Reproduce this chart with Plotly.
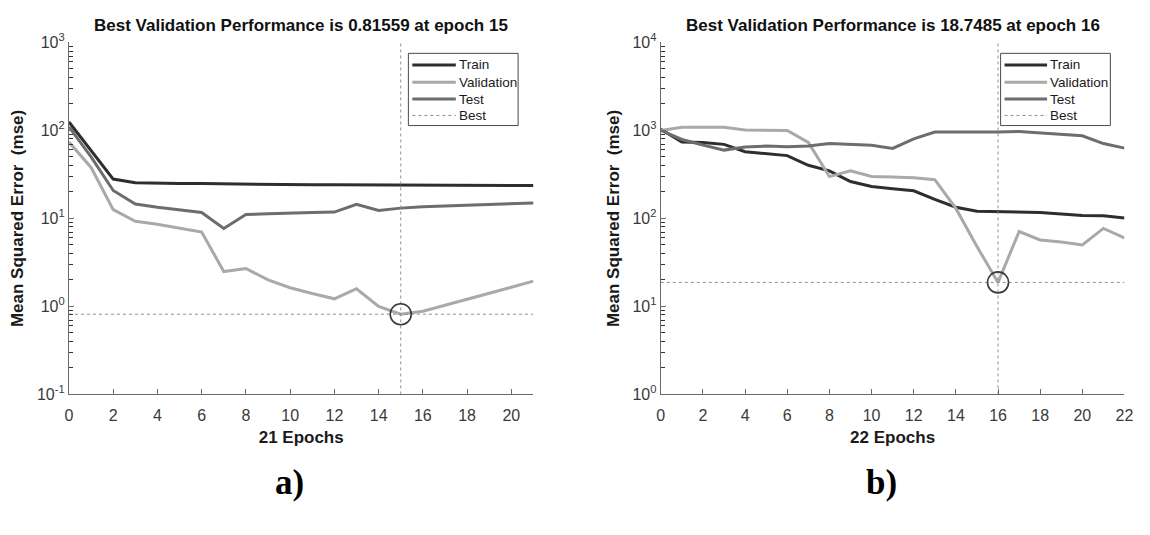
import plotly.graph_objects as go

# ---------------- data ----------------
left_epochs = list(range(0, 22))
left_train = [125, 59, 28, 25.5, 25.0, 24.9, 24.9, 24.7, 24.4, 24.3, 24.2, 24.1,
              24.1, 24.0, 23.9, 23.8, 23.8, 23.7, 23.7, 23.7, 23.7, 23.7]
left_val = [73.8, 38, 12.6, 9.3, 8.6, 7.7, 7.0, 2.49, 2.7, 2.0, 1.63, 1.40,
            1.22, 1.59, 1.0, 0.81559, 0.88, 1.03, 1.2, 1.4, 1.65, 1.94]
left_test = [110, 50, 20.8, 14.6, 13.4, 12.4, 11.7, 7.7, 11.1, 11.3, 11.6, 11.7,
             11.8, 14.5, 12.3, 13.1, 13.6, 13.9, 14.2, 14.5, 14.8, 15.0]
left_best_epoch = 15
left_best_val = 0.81559
left_yrange = [0.1, 1000]

right_epochs = list(range(0, 23))
right_train = [1030, 740, 730, 695, 573, 541, 518, 402, 348, 263, 231, 217,
               206, 165, 134, 121, 120, 119, 117, 112, 108, 107, 101]
right_val = [1000, 1090, 1090, 1090, 1010, 1000, 1000, 730, 299, 348, 300, 295,
             290, 276, 130, 48, 18.7485, 71, 57, 54, 50, 77, 60]
right_test = [1000, 790, 683, 598, 650, 665, 655, 665, 713, 695, 680, 624,
              803, 959, 955, 960, 960, 975, 942, 900, 870, 710, 630]
right_best_epoch = 16
right_best_val = 18.7485
right_yrange = [1, 10000]

left_title = "Best Validation Performance is 0.81559 at epoch 15"
right_title = "Best Validation Performance is 18.7485 at epoch 16"
left_xlabel = "21 Epochs"
right_xlabel = "22 Epochs"
ylabel = "Mean Squared Error  (mse)"
left_yticks = [0.1, 1, 10, 100, 1000]
left_yticktext = ["10<sup>-1</sup>", "10<sup>0</sup>", "10<sup>1</sup>", "10<sup>2</sup>", "10<sup>3</sup>"]
right_yticks = [1, 10, 100, 1000, 10000]
right_yticktext = ["10<sup>0</sup>", "10<sup>1</sup>", "10<sup>2</sup>", "10<sup>3</sup>", "10<sup>4</sup>"]
panel_labels = ["a)", "b)"]
legend_labels = ["Train", "Validation", "Test", "Best"]
minor_mult = [2, 3, 4, 5, 6, 7, 8, 9]

# ---------------- style ----------------
C_TRAIN = "#2e2e2e"
C_VAL = "#a9a9a9"
C_TEST = "#6d6d6d"
C_BEST = "#8f8f8f"
C_AXIS = "#6a6a6a"
FONT = "Liberation Sans, Arial, sans-serif"
series_styles = [dict(color=C_TRAIN, width=3), dict(color=C_VAL, width=3),
                 dict(color=C_TEST, width=3), dict(color=C_BEST, width=1, dash="dot")]

W, H = 1150, 535
ytop, ybot = 32.7, 398.3
dom_y = [1 - ybot / H, 1 - ytop / H]
dom_x1 = [65.7 / W, 535.5 / W]
dom_x2 = [664.3 / W, 1133.3 / W]

fig = go.Figure()


def add_panel(xa, ya, epochs, train, val, test, best_e, best_v, yr):
    common = dict(xaxis=xa, yaxis=ya, mode="lines", hoverinfo="skip", showlegend=False)
    for name, ys, st in zip(legend_labels[:3], [train, val, test], series_styles[:3]):
        fig.add_trace(go.Scatter(x=epochs, y=ys, name=name, line=st, **common))
    fig.add_trace(go.Scatter(x=[min(epochs), max(epochs)], y=[best_v, best_v], name="Best",
                             line=series_styles[3], **common))
    fig.add_trace(go.Scatter(x=[best_e, best_e], y=yr, name="Best",
                             line=series_styles[3], **common))
    fig.add_trace(go.Scatter(x=[best_e], y=[best_v], mode="markers", showlegend=False,
                             xaxis=xa, yaxis=ya, hoverinfo="skip",
                             marker=dict(symbol="circle-open", size=21,
                                         color="#3a3a3a", line=dict(width=1.6, color="#3a3a3a"))))


add_panel("x", "y", left_epochs, left_train, left_val, left_test,
          left_best_epoch, left_best_val, left_yrange)
add_panel("x2", "y2", right_epochs, right_train, right_val, right_test,
          right_best_epoch, right_best_val, right_yrange)

TITLE_FONT = dict(family=FONT, size=17, color="#1a1a1a")
TICK_FONT = dict(family=FONT, size=16, color="#3a3a3a")


def minor_vals(decades):
    return [m * d for d in decades[:-1] for m in minor_mult]


xcommon = dict(showgrid=False, zeroline=False, showline=True, linecolor=C_AXIS, linewidth=1.2,
               ticks="inside", ticklen=5, tickcolor=C_AXIS, dtick=2, tick0=0,
               tickfont=TICK_FONT, mirror=False, ticklabelstandoff=6)
ycommon = dict(type="log", showgrid=False, zeroline=False, showline=True, linecolor=C_AXIS,
               linewidth=1.2, ticks="inside", ticklen=5, tickcolor=C_AXIS,
               tickfont=TICK_FONT,
               title=dict(text="<b>" + ylabel + "</b>", font=TITLE_FONT, standoff=8))

fig.update_layout(
    width=W, height=H, margin=dict(l=0, r=0, t=0, b=0),
    paper_bgcolor="white", plot_bgcolor="white", showlegend=False,
    xaxis=dict(domain=dom_x1, range=[0, 21], anchor="y",
               title=dict(text="<b>" + left_xlabel + "</b>", font=TITLE_FONT, standoff=8),
               **xcommon),
    yaxis=dict(domain=dom_y, range=[-1, 3], anchor="x", tickmode="array",
               tickvals=left_yticks, ticktext=left_yticktext,
               minor=dict(ticks="inside", ticklen=4, tickwidth=1.2, tickcolor="#333", showgrid=False,
                          tickmode="array", tickvals=minor_vals(left_yticks)),
               **ycommon),
    xaxis2=dict(domain=dom_x2, range=[0, 22], anchor="y2",
                title=dict(text="<b>" + right_xlabel + "</b>", font=TITLE_FONT, standoff=8),
                **xcommon),
    yaxis2=dict(domain=dom_y, range=[0, 4], anchor="x2", tickmode="array",
                tickvals=right_yticks, ticktext=right_yticktext,
                minor=dict(ticks="inside", ticklen=4, tickwidth=1.2, tickcolor="#333", showgrid=False,
                           tickmode="array", tickvals=minor_vals(right_yticks)),
                **ycommon),
)


# ---------- legend boxes (drawn as layout decoration, pixel -> paper) ----------
def px(x):
    return x / W


def py(y):
    return 1 - y / H


def draw_legend(box_l, box_r, sample_l, sample_r, text_x):
    box_t, box_b = 44, 119
    fig.add_shape(type="rect", xref="paper", yref="paper", layer="above",
                  x0=px(box_l), x1=px(box_r), y0=py(box_b), y1=py(box_t),
                  line=dict(color="#4a4a4a", width=1), fillcolor="white")
    row_y = [56, 74, 91.5, 108.5]
    for lbl, st, ry in zip(legend_labels, series_styles, row_y):
        fig.add_shape(type="line", xref="paper", yref="paper", layer="above",
                      x0=px(sample_l), x1=px(sample_r), y0=py(ry), y1=py(ry), line=st)
        fig.add_annotation(text=lbl, xref="paper", yref="paper", x=px(text_x), y=py(ry),
                           xanchor="left", yanchor="middle", showarrow=False,
                           font=dict(family=FONT, size=13.5, color="#1a1a1a"))


draw_legend(409, 520, 413, 457, 458)
draw_legend(1008, 1119, 1012, 1055, 1056)

annots = [
    dict(text="<b>" + left_title + "</b>", x=(dom_x1[0] + dom_x1[1]) / 2, y=1 - 15 / H),
    dict(text="<b>" + right_title + "</b>", x=(dom_x2[0] + dom_x2[1]) / 2, y=1 - 15 / H),
]
for a in annots:
    fig.add_annotation(xref="paper", yref="paper", showarrow=False, xanchor="center", yanchor="middle",
                       font=dict(family=FONT, size=17, color="#111"), **a)

for lbl, xc in zip(panel_labels, [289 / W, 888 / W]):
    fig.add_annotation(text="<b>" + lbl + "</b>", xref="paper", yref="paper", x=xc, y=1 - 490 / H,
                       showarrow=False, xanchor="center", yanchor="middle",
                       font=dict(family="Liberation Serif, Times New Roman, serif", size=35, color="#000"))

fig.write_html("out.html")
